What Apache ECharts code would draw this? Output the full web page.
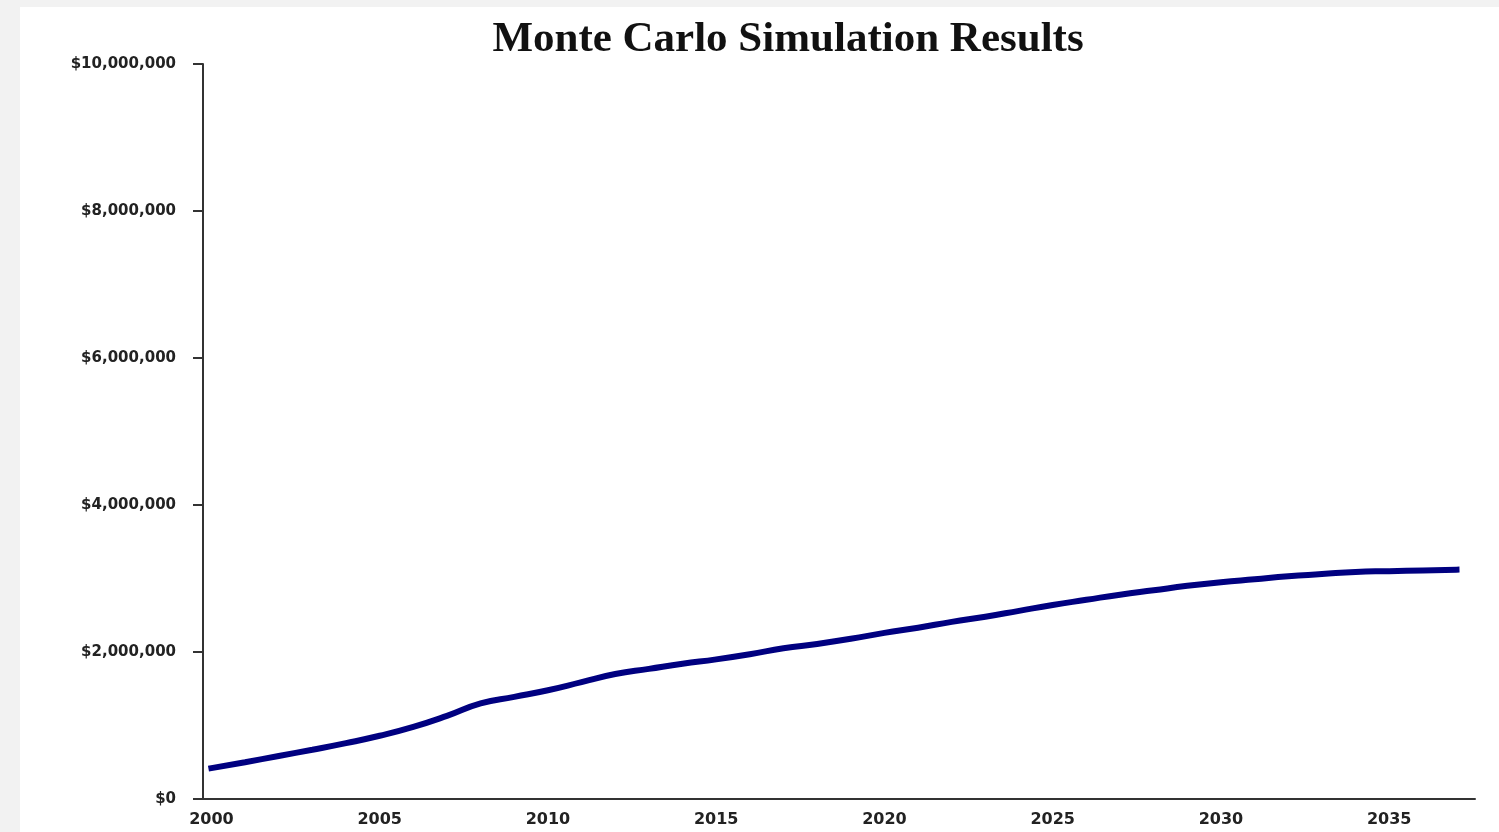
<!DOCTYPE html>
<html>
<head>
<meta charset="utf-8">
<title>Monte Carlo Simulation Results</title>
<script src="https://cdn.jsdelivr.net/npm/echarts@6/dist/echarts.min.js"></script>
<style>
  html, body {
    margin: 0;
    padding: 0;
    background: #ffffff;
  }
  #chart {
    width: 1479px;
    height: 825px;
    border-left: 20px solid #f2f2f2;
    border-top: 7px solid #f2f2f2;
  }
</style>
</head>
<body>
<div id="chart"></div>
<script>
// years of the simulation
const years = [
  2000, 2001, 2002, 2003, 2004, 2005, 2006, 2007, 2008, 2009,
  2010, 2011, 2012, 2013, 2014, 2015, 2016, 2017, 2018, 2019,
  2020, 2021, 2022, 2023, 2024, 2025, 2026, 2027, 2028, 2029,
  2030, 2031, 2032, 2033, 2034, 2035, 2036, 2037
];
// median portfolio value
const values = [
  420000, 500000, 585000, 670000, 760000, 860000, 980000, 1130000, 1300000, 1390000,
  1480000, 1590000, 1700000, 1770000, 1840000, 1900000, 1970000, 2050000, 2110000, 2180000,
  2260000, 2330000, 2410000, 2480000, 2560000, 2640000, 2710000, 2780000, 2840000, 2900000,
  2950000, 2990000, 3030000, 3060000, 3090000, 3100000, 3110000, 3120000
];
const xTicks = [2000, 2005, 2010, 2015, 2020, 2025, 2030, 2035];

const chart = echarts.init(document.getElementById('chart'));

const option = {
  backgroundColor: '#ffffff',
  animation: false,
  title: {
    text: 'Monte Carlo Simulation Results',
    left: 763,
    top: 6,
    textAlign: 'center',
    textStyle: {
      fontFamily: 'Liberation Serif, Times New Roman, serif',
      fontWeight: 'bold',
      fontSize: 43,
      color: '#111'
    }
  },
  grid: {
    left: 183,
    right: 24,
    top: 57,
    bottom: 33
  },
  xAxis: {
    type: 'value',
    min: 1999.75,
    max: 2037.55,
    axisLine: { lineStyle: { color: '#333', width: 2 } },
    axisTick: { show: false },
    splitLine: { show: false },
    axisLabel: {
      customValues: xTicks,
      margin: 13,
      color: '#222',
      fontFamily: 'DejaVu Sans, sans-serif',
      fontWeight: 'bold',
      fontSize: 16,
      formatter: (v) => String(v)
    }
  },
  yAxis: {
    type: 'value',
    min: 0,
    max: 10000000,
    interval: 2000000,
    axisLine: { show: true, lineStyle: { color: '#333', width: 2 } },
    axisTick: { show: true, length: 10, lineStyle: { color: '#333', width: 2 } },
    splitLine: { show: false },
    axisLabel: {
      margin: 27,
      color: '#222',
      fontFamily: 'DejaVu Sans, sans-serif',
      fontWeight: 'bold',
      fontSize: 15,
      formatter: (v) => '$' + v.toLocaleString('en-US')
    }
  },
  series: [
    {
      type: 'line',
      data: years.map((y, i) => [y, values[i]]),
      smooth: true,
      showSymbol: false,
      lineStyle: { color: '#000080', width: 6, cap: 'square' }
    }
  ]
};

chart.setOption(option);
</script>
</body>
</html>
